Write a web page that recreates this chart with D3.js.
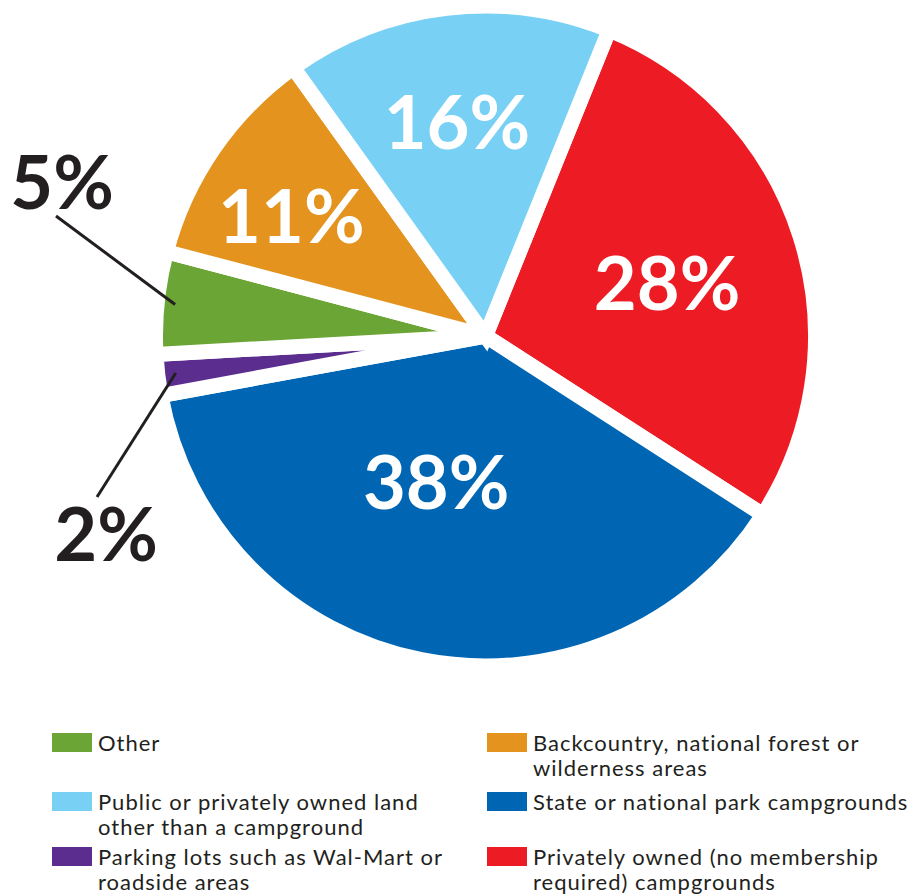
<!DOCTYPE html>
<html>
<head>
<meta charset="utf-8">
<script src="https://cdn.jsdelivr.net/npm/d3@7/dist/d3.min.js"></script>
<style>
  html, body { margin: 0; padding: 0; background: #ffffff; }
  svg { display: block; }
</style>
</head>
<body>
<svg id="chart" width="916" height="896"></svg>
<script>
// Where campers stay: share of respondents by type of site
const categories = [
  "Privately owned (no membership required) campgrounds",
  "State or national park campgrounds",
  "Parking lots such as Wal-Mart or roadside areas",
  "Other",
  "Backcountry, national forest or wilderness areas",
  "Public or privately owned land other than a campground"
];
const shares = [28, 38, 2, 5, 11, 16];
const colors = ["#ed1c24", "#0066b3", "#5b2d8e", "#6aa535", "#e3931e", "#79d0f5"];

// Legend: two columns, three rows each
const legendOrder = [3, 4, 5, 1, 2, 0];
const legendLines = [
  ["Privately owned (no membership", "required) campgrounds"],
  ["State or national park campgrounds"],
  ["Parking lots such as Wal-Mart or", "roadside areas"],
  ["Other"],
  ["Backcountry, national forest or", "wilderness areas"],
  ["Public or privately owned land", "other than a campground"]
];

const svg = d3.select("#chart");
const cx = 485.5, cy = 336, outerR = 330, gap = 15;
const deg = Math.PI / 180;

const data = categories.map((c, i) => ({ name: c, value: shares[i], color: colors[i], idx: i }));

const pie = d3.pie()
  .value(d => d.value)
  .sort(null)
  .startAngle(22 * deg)
  .endAngle(22 * deg + 2 * Math.PI);

const arcs = pie(data);
const arc = d3.arc().innerRadius(0).outerRadius(outerR);

const g = svg.append("g").attr("transform", `translate(${cx},${cy})`);

g.selectAll("path.slice")
  .data(arcs)
  .join("path")
  .attr("class", "slice")
  .attr("d", arc)
  .attr("fill", d => d.data.color)
  .attr("stroke", "#ffffff")
  .attr("stroke-width", gap)
  .attr("stroke-linejoin", "miter");

const pct = d => d.data.value + "%";
const mid = d => (d.startAngle + d.endAngle) / 2;
const polar = (r, a) => [r * Math.sin(a), -r * Math.cos(a)];

// Labels inside the larger slices: [radius, angle nudge in degrees]
const insidePlacement = { 0: [189, 1.5], 1: [154, 7.5], 4: [228, -3], 5: [216, -0.8] };
// Labels outside the small slices, joined by leader lines
const outsidePlacement = {
  3: { text: [-423.5, -154], lineEnd: [-429.5, -120] },
  2: { text: [-379.5, 198], lineEnd: [-388.5, 161] }
};

const labelFont = "Lato, 'Open Sans', sans-serif";

g.selectAll("text.inside")
  .data(arcs.filter(d => insidePlacement[d.data.idx]))
  .join("text")
  .attr("class", "inside")
  .attr("transform", d => {
    const [r, nudge] = insidePlacement[d.data.idx];
    const [x, y] = polar(r, mid(d) + nudge * deg);
    return `translate(${x},${y})`;
  })
  .attr("text-anchor", "middle")
  .attr("dy", "0.36em")
  .attr("fill", "#ffffff")
  .style("font-family", labelFont)
  .style("font-weight", 700)
  .style("font-size", "74px")
  .text(pct);

const outside = arcs.filter(d => outsidePlacement[d.data.idx]);

g.selectAll("line.leader")
  .data(outside)
  .join("line")
  .attr("class", "leader")
  .attr("x1", d => polar(312, mid(d))[0])
  .attr("y1", d => polar(312, mid(d))[1])
  .attr("x2", d => outsidePlacement[d.data.idx].lineEnd[0])
  .attr("y2", d => outsidePlacement[d.data.idx].lineEnd[1])
  .attr("stroke", "#231f20")
  .attr("stroke-width", 3);

g.selectAll("text.outside")
  .data(outside)
  .join("text")
  .attr("class", "outside")
  .attr("x", d => outsidePlacement[d.data.idx].text[0])
  .attr("y", d => outsidePlacement[d.data.idx].text[1])
  .attr("text-anchor", "middle")
  .attr("dy", "0.36em")
  .attr("fill", "#231f20")
  .style("font-family", labelFont)
  .style("font-weight", 700)
  .style("font-size", "74px")
  .text(pct);

// Legend
const colX = [52, 487];
const rowTop = [733, 792, 847];
const lineGap = 25;
const legend = svg.append("g").attr("class", "legend");

legendOrder.forEach((idx, k) => {
  const col = k % 2, row = Math.floor(k / 2);
  const x = colX[col], y = rowTop[row];
  const item = legend.append("g");
  item.append("rect")
    .attr("x", x).attr("y", y)
    .attr("width", 40).attr("height", 19)
    .attr("fill", colors[idx]);
  const t = item.append("text")
    .attr("x", x + 46)
    .attr("y", y + 18)
    .attr("fill", "#231f20")
    .style("font-family", labelFont)
    .style("font-size", "22px")
    .style("letter-spacing", "1px");
  legendLines[idx].forEach((line, li) => {
    t.append("tspan")
      .attr("x", x + 46)
      .attr("dy", li === 0 ? 0 : lineGap)
      .text(line);
  });
});
</script>
</body>
</html>
